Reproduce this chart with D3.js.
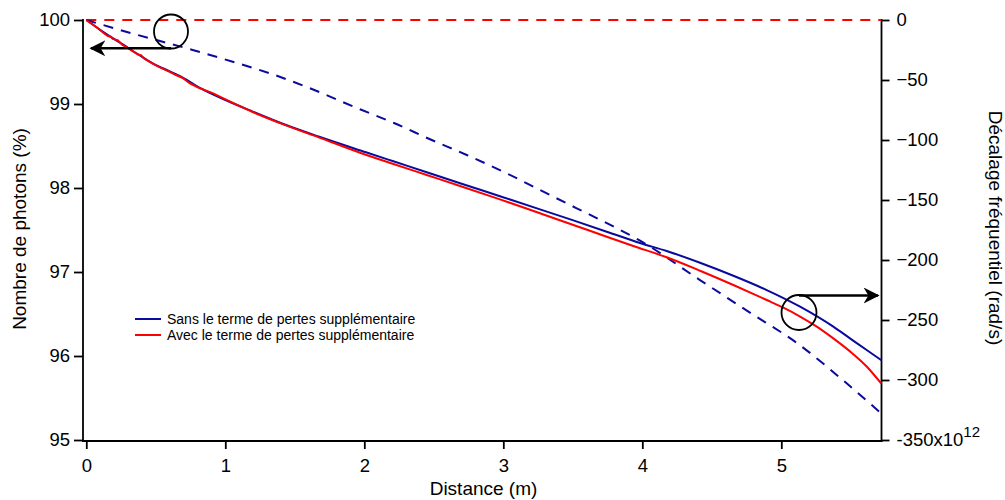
<!DOCTYPE html>
<html><head><meta charset="utf-8">
<script src="https://cdn.jsdelivr.net/npm/d3@7"></script>
<style>body{margin:0;background:#fff}svg{display:block}text{font-family:"Liberation Sans",Arial,sans-serif}</style>
</head><body><svg id="c" width="1005" height="500"></svg>
<script>
// Photon number (%) vs distance (m)
const blueDist = [0, 0.129, 0.262, 0.37, 0.478, 0.597, 0.694, 0.813, 0.957, 1.197, 1.437, 1.676, 2.012, 2.209, 2.449, 2.689, 2.976, 3.264, 3.504, 3.744, 3.983, 4.175, 4.415, 4.655, 4.895, 5.135, 5.374, 5.494, 5.614, 5.72];
const bluePct  = [100, 99.85, 99.71, 99.595, 99.485, 99.39, 99.315, 99.195, 99.08, 98.91, 98.75, 98.61, 98.425, 98.318, 98.188, 98.057, 97.902, 97.746, 97.614, 97.48, 97.345, 97.25, 97.11, 96.955, 96.785, 96.587, 96.349, 96.21, 96.071, 95.95];
const redDist = [0, 0.070, 0.129, 0.154, 0.178, 0.19, 0.226, 0.262, 0.286, 0.322, 0.37, 0.394, 0.417, 0.478, 0.525, 0.597, 0.645, 0.694, 0.741, 0.813, 0.909, 1.197, 1.437, 1.676, 1.969, 2.209, 2.449, 2.689, 2.976, 3.264, 3.504, 3.744, 3.935, 4.175, 4.415, 4.655, 4.895, 5.015, 5.135, 5.255, 5.374, 5.494, 5.614, 5.72];
const redPct  = [100, 99.92, 99.84, 99.81, 99.80, 99.775, 99.76, 99.70, 99.68, 99.64, 99.59, 99.58, 99.54, 99.48, 99.44, 99.385, 99.345, 99.31, 99.25, 99.19, 99.13, 98.905, 98.745, 98.60, 98.42, 98.286, 98.155, 98.024, 97.865, 97.699, 97.56, 97.42, 97.31, 97.175, 97.015, 96.845, 96.667, 96.575, 96.47, 96.35, 96.21, 96.055, 95.875, 95.67];
// Frequency shift (x10^12 rad/s)
const shiftDist  = [0, 0.286, 0.765, 1.053, 1.341, 1.581, 1.969, 2.209, 2.473, 2.737, 3.0, 3.264, 3.528, 3.77, 3.971, 4.415, 4.763, 5.122, 5.47, 5.72];
const blueShift  = [0, -9.75, -25, -34.75, -45.25, -55.6, -74.4, -85.6, -99.4, -112.5, -126.4, -141.7, -156.9, -170.8, -183, -216.7, -243, -270, -302.8, -328];
const redShiftDist = [0, 5.72];
const redShift     = [0, 0];
const xTicks = [0, 1, 2, 3, 4, 5];
const yLeftTicks = [95, 96, 97, 98, 99, 100];
const yRightTicks = [0, -50, -100, -150, -200, -250, -300, -350];
const legendLabels = ["Sans le terme de pertes supplémentaire", "Avec le terme de pertes supplémentaire"];

const svg = d3.select("#c");
const BLUE = "#0a0a9c", RED = "#ff0000";
const x = d3.scaleLinear().domain([0, 5.72]).range([86.3, 881.4]);
const yL = d3.scaleLinear().domain([95, 100]).range([440, 20]);
const yR = d3.scaleLinear().domain([-350, 0]).range([440, 20]);

const axisW = 1.8, TICKFS = "18.5px", TITLEFS = "19px";
// axes
const gx = svg.append("g").attr("transform", "translate(0,441)")
  .call(d3.axisBottom(x).tickValues(xTicks).tickFormat(d3.format("d")).tickSize(8).tickPadding(10));
const gl = svg.append("g").attr("transform", "translate(83,0)")
  .call(d3.axisLeft(yL).tickValues(yLeftTicks).tickFormat(d3.format("d")).tickSize(9).tickPadding(4));
const gr = svg.append("g").attr("transform", "translate(881.5,0)")
  .call(d3.axisRight(yR).tickValues(yRightTicks).tickFormat(d3.format("d")).tickSize(8).tickPadding(7));
[gx, gl, gr].forEach(g => {
  g.select(".domain").remove();
  g.selectAll(".tick line").attr("stroke", "#000").attr("stroke-width", axisW);
  g.selectAll(".tick text").attr("fill", "#000").style("font-size", TICKFS);
});
gr.selectAll(".tick text").filter(d => d === -350).each(function() {
  const t = d3.select(this);
  t.text("-350x10");
  t.append("tspan").attr("dy", "-0.6em").style("font-size", "15px").text("12");
});
svg.append("line").attr("x1", 83).attr("x2", 83).attr("y1", 19).attr("y2", 442).attr("stroke", "#000").attr("stroke-width", axisW);
svg.append("line").attr("x1", 82).attr("x2", 882.4).attr("y1", 441).attr("y2", 441).attr("stroke", "#000").attr("stroke-width", axisW);
svg.append("line").attr("x1", 881.5).attr("x2", 881.5).attr("y1", 19).attr("y2", 442).attr("stroke", "#000").attr("stroke-width", axisW);

// axis titles
svg.append("text").attr("x", 483.5).attr("y", 495).attr("text-anchor", "middle").style("font-size", TITLEFS).text("Distance (m)");
svg.append("text").attr("transform", "translate(26,229) rotate(-90)").attr("text-anchor", "middle").style("font-size", TITLEFS).text("Nombre de photons (%)");
svg.append("text").attr("transform", "translate(989,228) rotate(90)").attr("text-anchor", "middle").style("font-size", TITLEFS).text("Décalage fréquentiel (rad/s)");

// lines
const lineL = d3.line().x(d => x(d[0])).y(d => yL(d[1])).curve(d3.curveMonotoneX);
const lineLin = d3.line().x(d => x(d[0])).y(d => yL(d[1]));
const lineR = d3.line().x(d => x(d[0])).y(d => yR(d[1])).curve(d3.curveMonotoneX);
const zip = (a, b) => a.map((v, i) => [v, b[i]]);

svg.append("path").attr("d", lineR(zip(redShiftDist, redShift))).attr("fill", "none").attr("stroke", RED).attr("stroke-width", 2).attr("stroke-dasharray", "10,8");
svg.append("path").attr("d", lineR(zip(shiftDist, blueShift))).attr("fill", "none").attr("stroke", BLUE).attr("stroke-width", 2).attr("stroke-dasharray", "10,8");
svg.append("path").attr("d", lineL(zip(blueDist, bluePct))).attr("fill", "none").attr("stroke", BLUE).attr("stroke-width", 2);
const redPts = zip(redDist, redPct);
svg.append("path").attr("d", lineLin(redPts.filter(d => d[0] <= 0.91))).attr("fill", "none").attr("stroke", RED).attr("stroke-width", 2).attr("stroke-linejoin", "round");
svg.append("path").attr("d", lineL(redPts.filter(d => d[0] >= 0.909))).attr("fill", "none").attr("stroke", RED).attr("stroke-width", 2);

// annotations: circles and arrows
svg.append("defs").append("marker").attr("id", "ah").attr("viewBox", "0 0 10 10").attr("refX", 9).attr("refY", 5)
  .attr("markerWidth", 16).attr("markerHeight", 16).attr("markerUnits", "userSpaceOnUse").attr("orient", "auto")
  .append("path").attr("d", "M0,0 L10,5 L0,10 L3,5 Z").attr("fill", "#000");
svg.append("circle").attr("cx", 171).attr("cy", 31.5).attr("r", 17).attr("fill", "none").attr("stroke", "#000").attr("stroke-width", 1.8);
svg.append("line").attr("x1", 171).attr("y1", 48.3).attr("x2", 91).attr("y2", 48.3).attr("stroke", "#000").attr("stroke-width", 2.5).attr("marker-end", "url(#ah)");
svg.append("circle").attr("cx", 799).attr("cy", 312.5).attr("r", 17.5).attr("fill", "none").attr("stroke", "#000").attr("stroke-width", 1.8);
svg.append("line").attr("x1", 799).attr("y1", 295.5).attr("x2", 878).attr("y2", 295.5).attr("stroke", "#000").attr("stroke-width", 2.5).attr("marker-end", "url(#ah)");

// legend
const lg = svg.append("g");
legendLabels.forEach((lab, i) => {
  const yy = 319 + i * 16;
  lg.append("line").attr("x1", 135).attr("x2", 161).attr("y1", yy).attr("y2", yy).attr("stroke", i ? RED : BLUE).attr("stroke-width", 2);
  lg.append("text").attr("x", 167).attr("y", yy + 5).style("font-size", "14px").text(lab);
});
</script></body></html>
